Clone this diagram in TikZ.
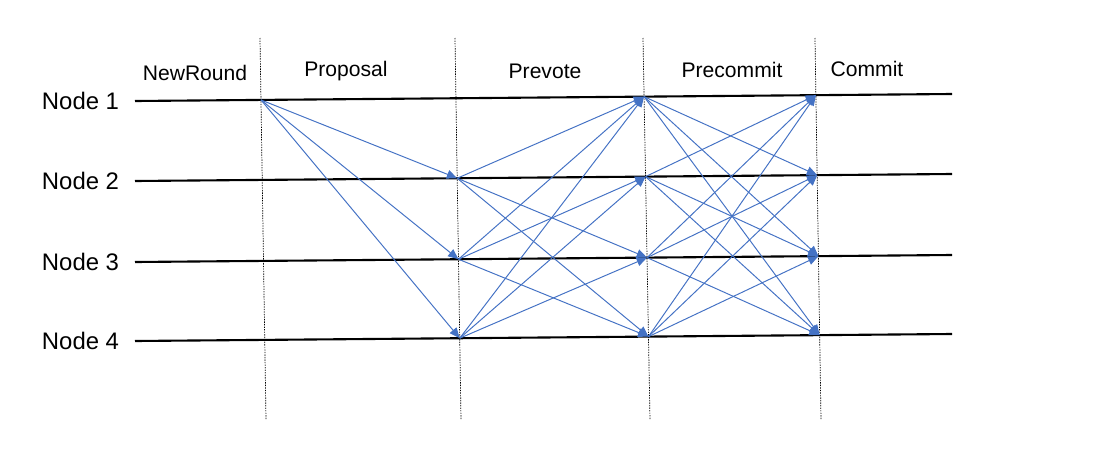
\documentclass[tikz,border=0pt]{standalone}
\usepackage{fontspec}
\setmainfont{Liberation Sans}
\usetikzlibrary{arrows.meta,intersections}
\definecolor{msgblue}{HTML}{4472C4}
\tikzset{
  nodeline/.style={line width=1.5pt},
  phaseline/.style={line width=0.5pt,dash pattern=on 1pt off 0.8pt},
  msg/.style={msgblue,line width=0.7pt,-{Triangle[length=2.6mm,width=2.2mm]}},
  rowlabel/.style={font=\fontsize{17}{19}\selectfont},
  phaselabel/.style={font=\fontsize{15}{17}\selectfont}
}
\begin{document}
\begin{tikzpicture}[x=0.025cm,y=-0.025cm]
\useasboundingbox (0,0) rectangle (1100,448);
% phase borders
\foreach \c/\xt/\xb in {1/260/266, 2/455/461, 3/643/650, 4/815/821}
  \draw[phaseline,name path global=col\c] (\xt,38) -- (\xb,420);
% node timelines
\foreach \r/\yl in {1/101, 2/181, 3/262, 4/341} {
  \node[rowlabel,anchor=west] (node\r) at (37,\yl) {Node \r};
  \coordinate (start\r) at (135,\yl);
  \coordinate (end\r) at (952,\yl-7);
  \draw[nodeline,name path global=row\r] (start\r) -- (end\r);
}
% phase names
\node[phaselabel] (newround) at (195,73) {NewRound};
\node[phaselabel] (proposal) at (346,71) {Proposal};
\node[phaselabel] (prevote) at (545,71) {Prevote};
\node[phaselabel] (precommit) at (732,70) {Precommit};
\node[phaselabel] (commit) at (867,69) {Commit};
% crossing points
\foreach \r in {1,...,4}
  \foreach \c in {1,...,4}
    \path[name intersections={of={row\r} and {col\c},by=p\r\c}];
% messages
\foreach \b in {2,3,4}
  \draw[msg] (p11) -- (p\b2);
\foreach \a/\b in {2/1,2/3,2/4,3/1,3/2,3/4,4/1,4/2,4/3}
  \draw[msg] (p\a2) -- (p\b3);
\foreach \a in {1,...,4}
  \foreach \b in {1,...,4} {
    \ifnum\a=\b\else \draw[msg] (p\a3) -- (p\b4); \fi
  }
\end{tikzpicture}
\end{document}
